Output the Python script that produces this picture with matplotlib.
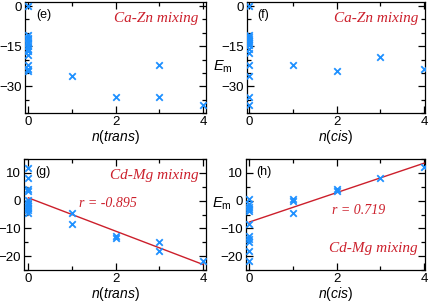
import numpy as np
import matplotlib
matplotlib.use("Agg")
import matplotlib.pyplot as plt
from matplotlib.ticker import MultipleLocator

plt.rcParams["font.family"] = ["Liberation Sans", "DejaVu Sans"]
plt.rcParams["mathtext.fontset"] = "custom"
plt.rcParams["mathtext.it"] = "Liberation Sans:italic"
plt.rcParams["mathtext.rm"] = "Liberation Sans"

# panel (e): Ca-Zn mixing vs n(trans)
e_x = [0] * 13 + [1, 2, 3, 3, 4]
e_y = [0, -11, -11.8, -12.5, -13.4, -14, -15, -16, -17, -18.4, -22, -23.4, -24.3,
       -26.2, -34, -22.1, -34, -36.9]

# panel (f): Ca-Zn mixing vs n(cis)
f_x = [0] * 13 + [1, 2, 3, 4]
f_y = [0, -10.9, -11.7, -12.5, -13, -13.7, -14.6, -16.2, -17.5, -22.1, -26.2, -34, -36.9,
       -22.1, -24.4, -19, -23.6]

# panel (g): Cd-Mg mixing vs n(trans)
g_x = [0] * 10 + [1, 1, 2, 2, 3, 3, 4]
g_y = [11.8, 8.2, 4.3, 3.5, 0.2, -0.9, -1.8, -2.6, -3.5, -4.3,
       -4.5, -8.4, -12.8, -13.4, -15, -18, -21.8]
g_fit = (1.0, -6.0)  # intercept, slope

# panel (h): Cd-Mg mixing vs n(cis)
h_x = [0] * 11 + [1, 1, 1, 2, 2, 3, 4]
h_y = [0.6, -1.2, -2.4, -3, -3.6, -8.4, -12.8, -13.7, -15, -18, -21.6,
       0.6, -0.2, -4.5, 4.2, 3.6, 8.2, 12]
h_fit = (-7.7, 5.3)

blue = "#1e90ff"
red = "#cc1f2b"

fig = plt.figure(figsize=(4.31, 3.03), dpi=100)

def px(l, t, r, b):
    W, H = 431, 303
    return [l / W, 1 - b / H, (r - l) / W, (b - t) / H]

ax_e = fig.add_axes(px(25, 2, 206, 113))
ax_f = fig.add_axes(px(247, 2, 425, 113))
ax_g = fig.add_axes(px(24, 159, 206, 270))
ax_h = fig.add_axes(px(246, 159, 425, 270))

def style(ax, xlim, ylim, ymaj, ymin):
    ax.set_xlim(*xlim)
    ax.set_ylim(*ylim)
    ax.xaxis.set_major_locator(MultipleLocator(2))
    ax.xaxis.set_minor_locator(MultipleLocator(1))
    ax.yaxis.set_major_locator(MultipleLocator(ymaj))
    ax.yaxis.set_minor_locator(MultipleLocator(ymin))
    ax.tick_params(which="both", direction="in", top=True, right=True, labelsize=9.5, pad=2)
    ax.tick_params(which="major", length=5, width=0.9)
    ax.tick_params(which="minor", length=3, width=0.9)
    for s in ax.spines.values():
        s.set_linewidth(0.9)

for ax, xs, ys in [(ax_e, e_x, e_y), (ax_f, f_x, f_y), (ax_g, g_x, g_y), (ax_h, h_x, h_y)]:
    ax.scatter(xs, ys, marker="x", s=22, color=blue, linewidths=1.3, zorder=3)

style(ax_e, (-0.08, 4.07), (-40, 1.5), 15, 5)
style(ax_f, (-0.05, 4.02), (-40, 1.5), 15, 5)
style(ax_g, (-0.1, 4.07), (-25, 15), 10, 5)
style(ax_h, (-0.08, 4.02), (-25, 15), 10, 5)

xx = np.array([0, 4])
ax_g.plot(xx, g_fit[0] + g_fit[1] * xx, color=red, lw=1.0, zorder=2)
ax_h.plot(xx, h_fit[0] + h_fit[1] * xx, color=red, lw=1.0, zorder=2)

xlab = {"fontsize": 10, "labelpad": 0.5}
ax_e.set_xlabel(r"$n$($trans$)", **xlab)
ax_f.set_xlabel(r"$n$($cis$)", **xlab)
ax_g.set_xlabel(r"$n$($trans$)", **xlab)
ax_h.set_xlabel(r"$n$($cis$)", **xlab)

# E_m written horizontally, squeezed between the tick labels
ax_f.set_ylabel(r"$E_\mathrm{m}$", fontsize=10.5, rotation=0, ha="center", va="center")
ax_f.yaxis.set_label_coords(-0.135, 0.42)
ax_h.set_ylabel(r"$E_\mathrm{m}$", fontsize=10.5, rotation=0, ha="center", va="center")
ax_h.yaxis.set_label_coords(-0.135, 0.60)

for ax, lab in [(ax_e, "(e)"), (ax_f, "(f)"), (ax_g, "(g)"), (ax_h, "(h)")]:
    ax.text(0.06, 0.88, lab, transform=ax.transAxes, fontsize=9, va="center", ha="left")

serif = {"family": "Liberation Serif", "style": "italic", "color": red}
ax_e.text(0.96, 0.85, "Ca-Zn mixing", transform=ax_e.transAxes, ha="right", va="center", fontsize=11, **serif)
ax_f.text(0.96, 0.85, "Ca-Zn mixing", transform=ax_f.transAxes, ha="right", va="center", fontsize=11, **serif)
ax_g.text(0.96, 0.85, "Cd-Mg mixing", transform=ax_g.transAxes, ha="right", va="center", fontsize=11, **serif)
ax_h.text(0.96, 0.19, "Cd-Mg mixing", transform=ax_h.transAxes, ha="right", va="center", fontsize=11, **serif)
ax_g.text(0.30, 0.60, "r = -0.895", transform=ax_g.transAxes, ha="left", va="center", fontsize=10, **serif)
ax_h.text(0.48, 0.54, "r = 0.719", transform=ax_h.transAxes, ha="left", va="center", fontsize=10, **serif)

fig.savefig("out.png", dpi=100)
